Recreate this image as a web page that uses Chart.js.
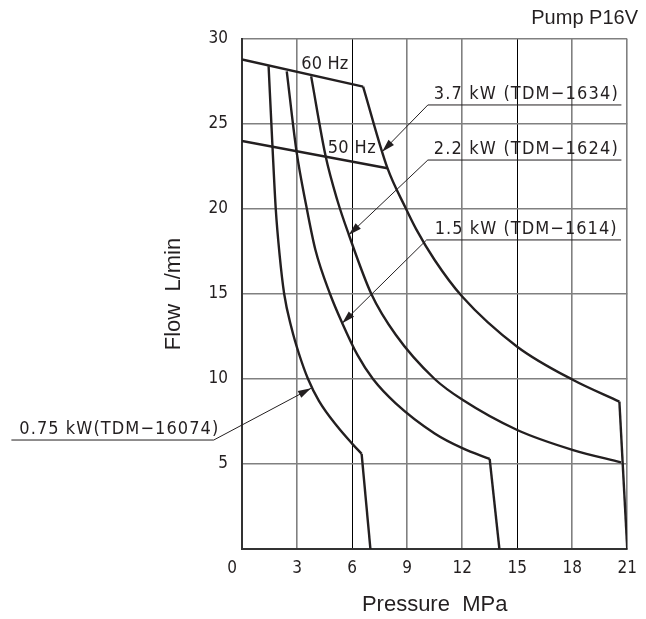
<!DOCTYPE html>
<html>
<head>
<meta charset="utf-8">
<script src="https://cdn.jsdelivr.net/npm/chart.js@4.4.1/dist/chart.umd.min.js"></script>
<style>
  html, body { margin: 0; background: #fff; }
  #wrap { width: 646px; height: 619px; }
</style>
</head>
<body>
<div id="wrap"><canvas id="myChart"></canvas></div>
<script>
// [pressure MPa, flow L/min]
const hz60 = [[0, 28.8], [6.6, 27.2]];
const hz50 = [[0, 24.0], [7.93, 22.4]];

const kw075 = [[1.45, 28.4], [1.66, 23.7], [1.84, 20], [2.05, 17.3], [2.3, 15], [2.7, 13],
               [3.1, 11.5], [3.6, 10], [4.2, 8.7], [5.2, 7.2], [6.0, 6.2], [6.52, 5.6]];
const kw075Drop = [[6.52, 5.6], [7.0, 0]];

const kw15 = [[2.44, 28.1], [2.97, 23.4], [3.5, 20.2], [4.0, 17.6], [4.8, 15], [5.46, 13.3],
              [6.3, 11.4], [7.14, 10], [8.38, 8.57], [10.5, 6.8], [12.04, 5.92], [13.5, 5.3]];
const kw15Drop = [[13.5, 5.3], [14.03, 0]];

const kw22 = [[3.77, 27.8], [4.56, 23.1], [5.2, 20.5], [5.82, 18.5], [7.05, 15], [8.38, 12.6],
              [10.5, 10], [12.04, 8.76], [15, 7.0], [18.05, 5.82], [20.66, 5.1]];

const kw37 = [[6.6, 27.2], [7.93, 22.4], [8.9, 20.1], [9.5, 18.8], [10.5, 17.0], [12.0, 14.85],
              [15, 11.9], [18.05, 9.94], [20.57, 8.67]];
const kw37Drop = [[20.57, 8.67], [21, 0]];

const xMax = 21, xStep = 3;
const yMax = 30, yStep = 5;
const darkGrid = [6, 15];

const pts = arr => arr.map(([x, y]) => ({x, y}));
const ink = '#231f20';

function line(data, curved) {
  return {
    data: pts(data),
    showLine: true,
    borderColor: ink,
    borderWidth: 2.4,
    pointRadius: 0,
    cubicInterpolationMode: curved ? 'monotone' : 'default',
    tension: 0
  };
}

// leader lines: arrow tip on curve, knee, far end of underline (data units); label width in px
const notes = [
  {text: '3.7 kW (TDM\u22121634)', tip: [7.64, 23.37], knee: [10.13, 26.12], end: 20.68, textX: 10.45, w: 184},
  {text: '2.2 kW (TDM\u22121624)', tip: [5.82, 18.47], knee: [10.13, 22.88], end: 20.68, textX: 10.45, w: 184},
  {text: '1.5 kW (TDM\u22121614)', tip: [5.46, 13.28], knee: [10.06, 18.18], end: 20.66, textX: 10.5, w: 182},
  {text: '0.75 kW(TDM\u221216074)', tip: [3.76, 9.45], knee: [-1.54, 6.41], end: -12.57, textX: -12.14, w: 199}
];
const hzNotes = [
  {text: '60 Hz', at: [3.23, 28.23], w: 47},
  {text: '50 Hz', at: [4.67, 23.3], w: 48}
];

const noteFont = '18px "DejaVu Sans Condensed", "DejaVu Sans", sans-serif';

function fitText(ctx, text, x, y, width) {
  ctx.letterSpacing = '0px';
  const natural = ctx.measureText(text).width;
  ctx.letterSpacing = ((width - natural) / (text.length - 1)) + 'px';
  ctx.fillText(text, x, y);
  ctx.letterSpacing = '0px';
}

const annotations = {
  id: 'annotations',
  afterDraw(chart) {
    const {ctx, scales: {x, y}} = chart;
    const px = v => x.getPixelForValue(v);
    const py = v => y.getPixelForValue(v);
    ctx.save();
    ctx.strokeStyle = ink;
    ctx.fillStyle = ink;
    ctx.lineWidth = 1;
    ctx.font = noteFont;
    ctx.textBaseline = 'alphabetic';
    ctx.textAlign = 'left';

    notes.forEach(n => {
      const tx = px(n.tip[0]), ty = py(n.tip[1]);
      const kx = px(n.knee[0]), ky = py(n.knee[1]);
      ctx.beginPath();
      ctx.moveTo(px(n.end), ky);
      ctx.lineTo(kx, ky);
      ctx.lineTo(tx, ty);
      ctx.stroke();
      // arrow head
      const a = Math.atan2(ty - ky, tx - kx);
      const len = 13, w = 3.8;
      ctx.beginPath();
      ctx.moveTo(tx, ty);
      ctx.lineTo(tx - len * Math.cos(a) + w * Math.sin(a), ty - len * Math.sin(a) - w * Math.cos(a));
      ctx.lineTo(tx - len * Math.cos(a) - w * Math.sin(a), ty - len * Math.sin(a) + w * Math.cos(a));
      ctx.closePath();
      ctx.fill();
      fitText(ctx, n.text, px(n.textX), ky - 6, n.w);
    });

    hzNotes.forEach(n => fitText(ctx, n.text, px(n.at[0]), py(n.at[1]), n.w));

    // origin label sits left of the corner
    ctx.textAlign = 'center';
    ctx.textBaseline = 'middle';
    ctx.font = tickFont.size + 'px ' + tickFont.family;
    ctx.fillText('0', x.left - 10, y.bottom + 20);
    ctx.restore();
  }
};

const data = {
  datasets: [
    line(hz60, false), line(hz50, false),
    line(kw075, true), line(kw075Drop, false),
    line(kw15, true), line(kw15Drop, false),
    line(kw22, true),
    line(kw37, true), line(kw37Drop, false)
  ]
};

const tickFont = {family: '"DejaVu Sans Condensed", "DejaVu Sans", sans-serif', size: 17};
const titleFont = {family: '"Liberation Sans", Arial, sans-serif', size: 22};

const config = {
  type: 'scatter',
  data,
  options: {
    responsive: true,
    maintainAspectRatio: false,
    animation: false,
    layout: {padding: {left: 0, right: 8, top: 0, bottom: 0}},
    plugins: {
      legend: {display: false},
      tooltip: {enabled: false},
      title: {
        display: true,
        text: 'Pump P16V',
        align: 'end',
        color: ink,
        font: {family: '"Liberation Sans", Arial, sans-serif', size: 20, weight: 'normal'},
        padding: {top: 6, bottom: 9}
      }
    },
    scales: {
      x: {
        type: 'linear',
        min: 0, max: xMax,
        ticks: {
          stepSize: xStep,
          color: ink,
          font: tickFont,
          padding: 9,
          maxRotation: 0,
          callback: v => v === 0 ? '' : v
        },
        grid: {
          drawTicks: false,
          color: c => darkGrid.includes(c.tick.value) ? '#000' : '#808080',
          lineWidth: c => darkGrid.includes(c.tick.value) ? 1 : 1.6
        },
        border: {color: '#333', width: 2},
        title: {display: true, text: 'Pressure  MPa', color: ink, font: titleFont, padding: {top: 0, bottom: 1}},
        afterFit: s => { s.height = 70; }
      },
      y: {
        type: 'linear',
        min: 0, max: yMax,
        ticks: {
          stepSize: yStep,
          color: ink,
          font: tickFont,
          padding: 14,
          callback: v => v === 0 ? '' : v
        },
        grid: {drawTicks: false, color: '#808080', lineWidth: 1.6},
        border: {color: '#333', width: 2},
        title: {display: true, text: 'Flow  L/min', color: ink, font: titleFont, padding: {top: 161, bottom: 0}},
        afterFit: s => { s.width = 242; }
      }
    }
  },
  plugins: [annotations]
};

const myChart = new Chart(document.getElementById('myChart'), config);
</script>
</body>
</html>
